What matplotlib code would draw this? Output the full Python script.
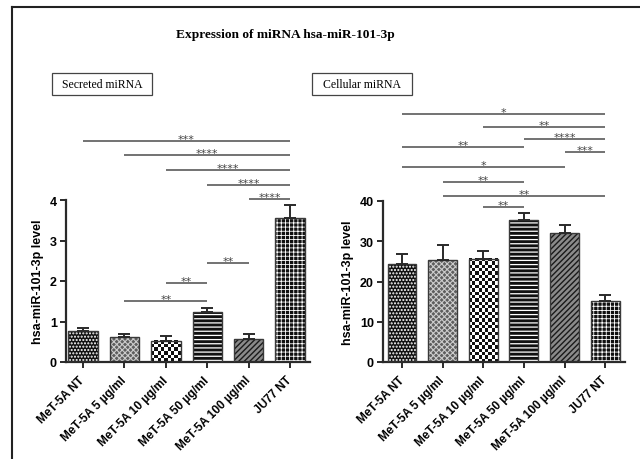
import numpy as np
import matplotlib
matplotlib.use("Agg")
import matplotlib.pyplot as plt
from matplotlib.patches import Rectangle
from matplotlib.lines import Line2D
from matplotlib.colors import ListedColormap
import matplotlib.transforms as mtransforms

# ---------------- data ----------------
categories = ["MeT-5A NT", "MeT-5A 5 µg/ml", "MeT-5A 10 µg/ml",
              "MeT-5A 50 µg/ml", "MeT-5A 100 µg/ml", "JU77 NT"]
secreted_mean = [0.76, 0.62, 0.52, 1.23, 0.57, 3.56]
secreted_sem = [0.07, 0.07, 0.12, 0.10, 0.12, 0.32]
cellular_mean = [24.3, 25.4, 25.6, 35.2, 32.0, 15.1]
cellular_sem = [2.6, 3.7, 2.0, 1.9, 2.0, 1.5]
secreted_yticks = [0, 1, 2, 3, 4]
cellular_yticks = [0, 10, 20, 30, 40]
# (group i, group j, bracket height, label)
secreted_sig = [(0, 5, 5.46, "***"), (1, 5, 5.11, "****"), (2, 5, 4.74, "****"),
                (3, 5, 4.37, "****"), (4, 5, 4.02, "****"), (3, 4, 2.44, "**"),
                (2, 3, 1.95, "**"), (1, 3, 1.50, "**")]
cellular_sig = [(0, 5, 61.5, "*"), (2, 5, 58.3, "**"), (3, 5, 55.3, "****"),
                (0, 3, 53.3, "**"), (4, 5, 52.1, "***"), (0, 4, 48.4, "*"),
                (1, 3, 44.7, "**"), (1, 5, 41.2, "**"), (2, 3, 38.5, "**")]
title = "Expression of miRNA hsa-miR-101-3p"
panel_titles = ["Secreted miRNA", "Cellular miRNA"]
ylabel = "hsa-miR-101-3p level"

# ---------------- styles ----------------
W, H = 640, 460
fig = plt.figure(figsize=(W / 100, H / 100), dpi=100)
fig.patch.set_facecolor("white")

sans = ["Liberation Sans", "DejaVu Sans"]
serif = ["Liberation Serif", "DejaVu Serif"]

# (face, hatch, hatchcolor, hatch linewidth, checker cell px)
styles = [("#101010", ".....", "#ffffff", 1.0, None),
          ("#5e5e5e", "xxxxxx", "#cccccc", 0.8, None),
          ("#ffffff", None, None, 1.0, 3.3),
          ("#101010", "----", "#ffffff", 0.9, None),
          ("#8a8a8a", "//////", "#1a1a1a", 1.0, None),
          ("#101010", "++++", "#ffffff", 0.6, None)]


def fx(px):
    return px / W


def fy(py):
    return 1 - py / H


def make_panel(rect, means, sems, yticks, sig, xlim, star_off):
    ax = fig.add_axes(rect)
    x = np.arange(len(categories))
    ax.set_xlim(*xlim)
    ax.set_ylim(yticks[0], yticks[-1])
    bars = []
    for i, (m, st) in enumerate(zip(means, styles)):
        face, hatch, hcol, hlw, chk = st
        with plt.rc_context({"hatch.linewidth": hlw}):
            b = ax.bar(x[i], m, width=0.71, color=face,
                       edgecolor=hcol if hatch else face, hatch=hatch,
                       linewidth=0, zorder=2)[0]
        bars.append(b)
    ax.set_xlim(*xlim)
    ax.set_ylim(yticks[0], yticks[-1])
    # checker textures
    for b, st in zip(bars, styles):
        if st[4] is not None:
            x0, y0, w, h = b.get_x(), b.get_y(), b.get_width(), b.get_height()
            p0 = ax.transData.transform((x0, y0))
            p1 = ax.transData.transform((x0 + w, y0 + h))
            nx = max(1, int(round((p1[0] - p0[0]) / st[4])))
            ny = max(1, int(round((p1[1] - p0[1]) / st[4])))
            arr = np.add.outer(np.arange(ny), np.arange(nx)) % 2
            ax.imshow(arr, cmap=ListedColormap(["#111111", "#ffffff"]),
                      extent=(x0, x0 + w, y0, y0 + h), origin="lower",
                      interpolation="nearest", aspect="auto", zorder=2.1,
                      clip_path=b)
    # outlines
    ax.bar(x, means, width=0.71, fill=False, edgecolor="#3a3a3a",
           linewidth=1.0, zorder=3)
    ax.errorbar(x, means, yerr=[np.zeros(len(sems)), sems], fmt="none",
                ecolor="#2a2a2a", elinewidth=1.4, capsize=4.5, capthick=1.4,
                zorder=4)
    ax.set_xlim(*xlim)
    ax.set_ylim(yticks[0], yticks[-1])
    ax.set_aspect("auto")

    for s in ["top", "right"]:
        ax.spines[s].set_visible(False)
    for s in ["left", "bottom"]:
        ax.spines[s].set_linewidth(1.6)
        ax.spines[s].set_color("#2a2a2a")
    ax.set_yticks(yticks)
    ax.set_yticklabels([str(t) for t in yticks], fontfamily=sans,
                       fontweight="bold", fontsize=9)
    ax.set_xticks(x)
    offset = mtransforms.ScaledTranslation(11 / 72, 0, fig.dpi_scale_trans)
    ax.set_xticklabels(categories, rotation=45, ha="right", va="center",
                       rotation_mode="anchor", fontfamily=sans,
                       fontweight="bold", fontsize=8.5)
    for lab in ax.get_xticklabels():
        lab.set_transform(lab.get_transform() + offset)
    ax.tick_params(axis="both", width=1.4, length=4.5, color="#2a2a2a",
                   direction="out")
    ax.tick_params(axis="x", pad=7)
    ax.tick_params(axis="y", pad=2)
    ax.set_ylabel(ylabel, fontfamily=sans, fontweight="bold", fontsize=9,
                  labelpad=4)

    for i, j, yv, lab in sig:
        ax.plot([x[i], x[j]], [yv, yv], color="#5a5a5a", lw=1.2,
                clip_on=False, solid_capstyle="butt", zorder=5)
        ax.annotate(lab, xy=((x[i] + x[j]) / 2, yv), xytext=(0, star_off),
                    textcoords="offset points", ha="center", va="bottom",
                    fontsize=8, color="#444444", fontfamily=["DejaVu Sans"],
                    annotation_clip=False)
    return ax


ax1 = make_panel([fx(66), fy(363), fx(310) - fx(66), fy(201) - fy(363)],
                 secreted_mean, secreted_sem, secreted_yticks, secreted_sig,
                 (-0.41, 5.48), -2.0)
ax2 = make_panel([fx(383), fy(363), fx(625) - fx(383), fy(202) - fy(363)],
                 cellular_mean, cellular_sem, cellular_yticks, cellular_sig,
                 (-0.47, 5.49), -2.0)

# title
fig.text(fx(285), fy(35), title, ha="center", va="center",
         fontfamily=serif, fontweight="bold", fontsize=9.6)

# panel boxes
for cx, t in zip([102, 362], panel_titles):
    fig.patches.append(Rectangle((fx(cx - 50), fy(96)), fx(100), fy(74) - fy(96),
                                 transform=fig.transFigure, fill=False,
                                 edgecolor="#444444", lw=0.9))
    fig.text(fx(cx), fy(85.5), t, ha="center", va="center", fontfamily=serif,
             fontsize=8.5)

# outer frame (left and top edges)
fig.lines.append(Line2D([fx(12), fx(12)], [0, fy(8)], transform=fig.transFigure,
                        color="#222222", lw=1.5))
fig.lines.append(Line2D([fx(12), 1], [fy(8), fy(8)], transform=fig.transFigure,
                        color="#222222", lw=1.5))

fig.savefig("out.png", dpi=100, facecolor="white")
